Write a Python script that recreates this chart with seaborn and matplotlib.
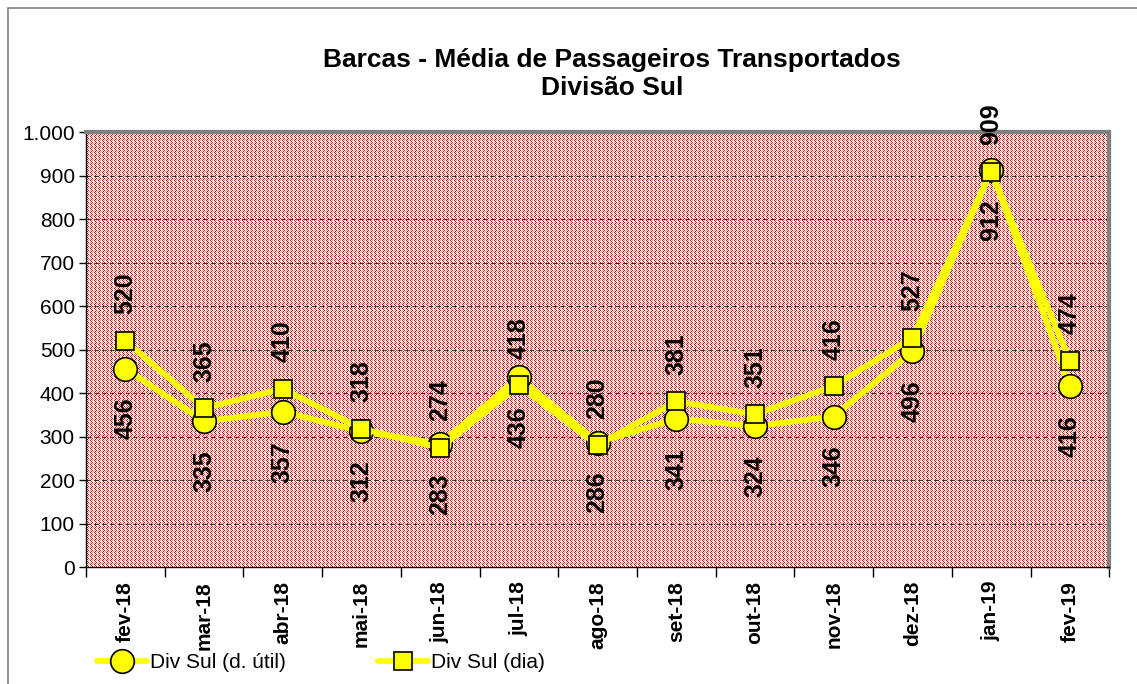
import numpy as np
import pandas as pd
import matplotlib
matplotlib.use("Agg")
import matplotlib.pyplot as plt
import seaborn as sns
from matplotlib.patches import Rectangle
from matplotlib.ticker import FuncFormatter, FixedLocator

# dados
meses = ["fev-18", "mar-18", "abr-18", "mai-18", "jun-18", "jul-18", "ago-18",
         "set-18", "out-18", "nov-18", "dez-18", "jan-19", "fev-19"]
util = [456, 335, 357, 312, 283, 436, 286, 341, 324, 346, 496, 912, 416]
dia = [520, 365, 410, 318, 274, 418, 280, 381, 351, 416, 527, 909, 474]

sns.set_style("white")
plt.rcParams["font.family"] = ["Liberation Sans", "DejaVu Sans"]
plt.rcParams["text.color"] = "black"
plt.rcParams["xtick.color"] = "black"
plt.rcParams["ytick.color"] = "black"

df = pd.DataFrame({"pos": range(len(meses)), "mes": meses, "util": util, "dia": dia})

fig = plt.figure(figsize=(11.37, 6.84), dpi=100)
ax = fig.add_axes([0.0756, 0.171, 0.9, 0.636])
ax.set_facecolor("none")

# fundo quadriculado vermelho (estilo Excel), desenhado pixel a pixel
bb = ax.get_window_extent()
w, h = int(round(bb.width)), int(round(bb.height))
R = [0.80, 0.0, 0.0]
P = [0.95, 0.60, 0.60]
W = [1.0, 1.0, 1.0]
tile = np.array([[R, W, P, W],
                 [W, R, W, W],
                 [P, W, R, W],
                 [W, R, W, P]])
pat = np.tile(tile, (h // 4 + 1, w // 4 + 1, 1))[:h, :w]
fig.figimage(pat, xo=int(round(bb.x0)), yo=int(round(bb.y0)), origin="upper", zorder=-1)

ax.set_xlim(-0.5, len(meses) - 0.5)
ax.set_ylim(0, 1000)

# grade
for v in range(100, 1000, 100):
    ax.axhline(v, color="#333333", lw=0.8, ls=(0, (4, 3)), zorder=1)

yellow = "#FFFF00"
sns.lineplot(data=df, x="pos", y="util", ax=ax, color=yellow, lw=4.2, marker="o",
             markersize=17, markeredgecolor="black", markeredgewidth=1.2,
             label="Div Sul (d. útil)", zorder=3)
sns.lineplot(data=df, x="pos", y="dia", ax=ax, color=yellow, lw=4.2, marker="s",
             markersize=13, markeredgecolor="black", markeredgewidth=1.2,
             label="Div Sul (dia)", zorder=4)

# rótulos
for i in range(len(meses)):
    ax.annotate(str(dia[i]), (i, dia[i]), xytext=(0, 19), textcoords="offset points",
                rotation=90, ha="center", va="bottom", fontsize=18, fontweight="bold",
                annotation_clip=False, zorder=5)
    ax.annotate(str(util[i]), (i, util[i]), xytext=(0, -21), textcoords="offset points",
                rotation=90, ha="center", va="top", fontsize=18, fontweight="bold",
                annotation_clip=False, zorder=5)

# eixos
ax.set_yticks(range(0, 1001, 100))
ax.yaxis.set_major_formatter(FuncFormatter(lambda v, p: f"{int(v):,}".replace(",", ".")))
ax.tick_params(axis="y", labelsize=15, length=5, width=1, direction="out", left=True, pad=3)
ax.xaxis.set_major_locator(FixedLocator(np.arange(-0.5, len(meses), 1.0)))
ax.xaxis.set_minor_locator(FixedLocator(np.arange(len(meses))))
ax.set_xticklabels([])
ax.set_xticklabels(meses, minor=True, rotation=90, fontsize=15, fontweight="bold")
ax.tick_params(axis="x", which="major", length=7, width=1, direction="out", bottom=True)
ax.tick_params(axis="x", which="minor", length=0, pad=10)
ax.set_xlabel("")
ax.set_ylabel("")

for s in ["left", "bottom"]:
    ax.spines[s].set_color("black")
    ax.spines[s].set_linewidth(1)
for s in ["top", "right"]:
    ax.spines[s].set_color("#808080")
    ax.spines[s].set_linewidth(3)

ax.get_legend().remove()
hd, lb = ax.get_legend_handles_labels()
fig.legend(hd, lb, loc="center left", bbox_to_anchor=(0.069, 0.031), ncol=2,
           frameon=False, fontsize=15, handlelength=2.4, handletextpad=0.15,
           columnspacing=4.4)

fig.text(0.538, 0.892, "Barcas - Média de Passageiros Transportados\nDivisão Sul",
         ha="center", va="center", fontsize=19, fontweight="bold", linespacing=1.2)

fig.patches.append(Rectangle((8 / 1137, -0.1), 1.2, 1.0 - 8 / 684 + 0.1,
                             transform=fig.transFigure, fill=False,
                             edgecolor="#808080", lw=1.2))

fig.savefig("out.png", dpi=100)
